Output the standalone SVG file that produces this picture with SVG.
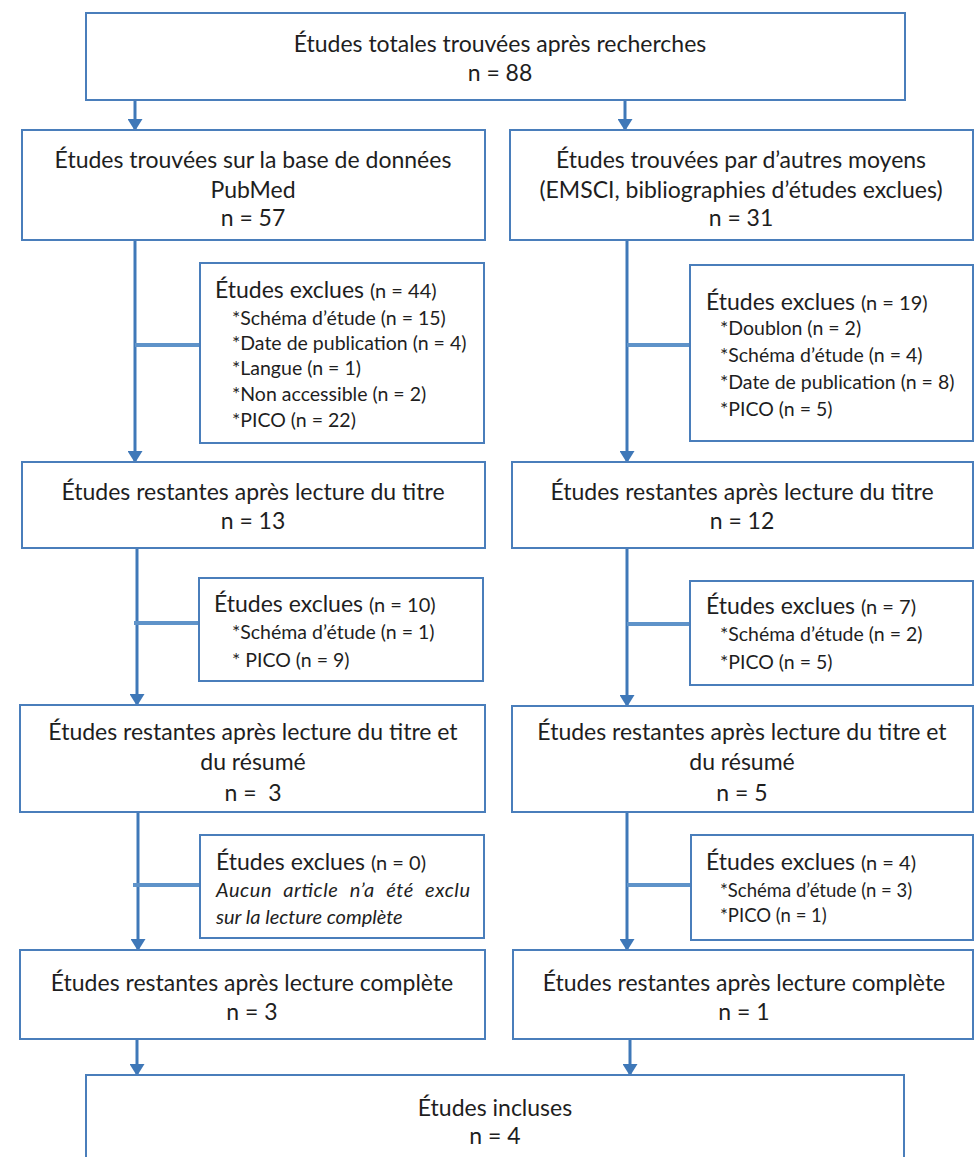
<svg xmlns="http://www.w3.org/2000/svg" width="975" height="1157" viewBox="0 0 975 1157">
<style>
.box{fill:#fff;stroke:#4a7ebb;stroke-width:2}
.t{font-family:Lato,"Open Sans","Liberation Sans",sans-serif;fill:#1e1e1e}
.m{font-size:23px;text-anchor:middle}
.h{font-size:23px}
.hs{font-size:20px}
.s{font-size:19.5px}
.s2{font-size:18.5px}
.i{font-size:20px;font-style:italic}
.ln{stroke:#3f78b8;stroke-width:3;fill:none}
.br{stroke:#5f93c9;stroke-width:4;fill:none}
</style>
<defs>
<marker id="ah" markerWidth="12" markerHeight="15" refX="11" refY="7.5" orient="auto" markerUnits="userSpaceOnUse" viewBox="0 0 12 15">
<path d="M0,0 L12,7.5 L0,15 Z" fill="#3f78b8"/>
</marker>
</defs>
<rect width="975" height="1157" fill="#fff"/>
<g id="connectors">
<line class="ln" x1="135" y1="100" x2="135" y2="130" marker-end="url(#ah)"/>
<line class="ln" x1="625" y1="100" x2="625" y2="130" marker-end="url(#ah)"/>
<line class="ln" x1="135" y1="240" x2="135" y2="462" marker-end="url(#ah)"/>
<line class="br" x1="135" y1="345" x2="200" y2="345"/>
<line class="ln" x1="627" y1="240" x2="627" y2="462" marker-end="url(#ah)"/>
<line class="br" x1="627" y1="345" x2="690" y2="345"/>
<line class="ln" x1="137" y1="548" x2="137" y2="705" marker-end="url(#ah)"/>
<line class="br" x1="134" y1="623" x2="200" y2="623"/>
<line class="ln" x1="627" y1="548" x2="627" y2="706" marker-end="url(#ah)"/>
<line class="br" x1="627" y1="624" x2="690" y2="624"/>
<line class="ln" x1="138" y1="812" x2="138" y2="950" marker-end="url(#ah)"/>
<line class="br" x1="133" y1="885" x2="200" y2="885"/>
<line class="ln" x1="627" y1="812" x2="627" y2="950" marker-end="url(#ah)"/>
<line class="br" x1="627" y1="885" x2="691" y2="885"/>
<line class="ln" x1="137" y1="1039" x2="137" y2="1075" marker-end="url(#ah)"/>
<line class="ln" x1="630" y1="1039" x2="630" y2="1075" marker-end="url(#ah)"/>
</g>
<g id="n-total">
<rect class="box" x="86" y="13" width="819" height="87"/>
<text class="t m" x="500" y="52">Études totales trouvées après recherches</text>
<text class="t m" x="500" y="81">n = 88</text>
</g>
<g id="n-pubmed">
<rect class="box" x="22" y="130" width="463" height="110"/>
<text class="t m" x="253" y="168">Études trouvées sur la base de données</text>
<text class="t m" x="253" y="198">PubMed</text>
<text class="t m" x="253" y="226">n = 57</text>
</g>
<g id="n-other">
<rect class="box" x="510" y="130" width="463" height="110"/>
<text class="t m" x="741" y="168">Études trouvées par d’autres moyens</text>
<text class="t m" x="741" y="198">(EMSCI, bibliographies d’études exclues)</text>
<text class="t m" x="741" y="226">n = 31</text>
</g>
<g id="n-excl-l1">
<rect class="box" x="200" y="263" width="284" height="180"/>
<text class="t h" x="215" y="298">Études exclues <tspan class="hs">(n = 44)</tspan></text>
<text class="t s" x="232" y="325">*Schéma d’étude (n = 15)</text>
<text class="t s" x="232" y="350">*Date de publication (n = 4)</text>
<text class="t s" x="232" y="375">*Langue (n = 1)</text>
<text class="t s" x="232" y="401">*Non accessible (n = 2)</text>
<text class="t s" x="232" y="427">*PICO (n = 22)</text>
</g>
<g id="n-excl-r1">
<rect class="box" x="690" y="265" width="283" height="176"/>
<text class="t h" x="706" y="310">Études exclues <tspan class="hs">(n = 19)</tspan></text>
<text class="t s" x="720" y="335">*Doublon (n = 2)</text>
<text class="t s" x="720" y="362">*Schéma d’étude (n = 4)</text>
<text class="t s" x="720" y="389">*Date de publication (n = 8)</text>
<text class="t s" x="720" y="416">*PICO (n = 5)</text>
</g>
<g id="n-title-l">
<rect class="box" x="22" y="462" width="463" height="86"/>
<text class="t m" x="253" y="500">Études restantes après lecture du titre</text>
<text class="t m" x="253" y="529">n = 13</text>
</g>
<g id="n-title-r">
<rect class="box" x="512" y="462" width="461" height="86"/>
<text class="t m" x="742" y="500">Études restantes après lecture du titre</text>
<text class="t m" x="742" y="529">n = 12</text>
</g>
<g id="n-excl-l2">
<rect class="box" x="199" y="578" width="284" height="103"/>
<text class="t h" x="214" y="612">Études exclues <tspan class="hs">(n = 10)</tspan></text>
<text class="t s" x="232" y="639">*Schéma d’étude (n = 1)</text>
<text class="t s" x="232" y="667">* PICO (n = 9)</text>
</g>
<g id="n-excl-r2">
<rect class="box" x="690" y="581" width="283" height="104"/>
<text class="t h" x="706" y="614">Études exclues <tspan class="hs">(n = 7)</tspan></text>
<text class="t s" x="720" y="641">*Schéma d’étude (n = 2)</text>
<text class="t s" x="720" y="669">*PICO (n = 5)</text>
</g>
<g id="n-abs-l">
<rect class="box" x="20" y="705" width="465" height="107"/>
<text class="t m" x="253" y="740">Études restantes après lecture du titre et</text>
<text class="t m" x="253" y="770">du résumé</text>
<text class="t m" x="253" y="801" xml:space="preserve">n =  3</text>
</g>
<g id="n-abs-r">
<rect class="box" x="512" y="706" width="461" height="106"/>
<text class="t m" x="742" y="740">Études restantes après lecture du titre et</text>
<text class="t m" x="742" y="770">du résumé</text>
<text class="t m" x="742" y="801">n = 5</text>
</g>
<g id="n-excl-l3">
<rect class="box" x="200" y="835" width="284" height="103"/>
<text class="t h" x="216" y="870">Études exclues <tspan class="hs">(n = 0)</tspan></text>
<text class="t i" x="216" y="897" textLength="254" lengthAdjust="spacing" word-spacing="6">Aucun article n’a été exclu</text>
<text class="t i" x="216" y="924">sur la lecture complète</text>
</g>
<g id="n-excl-r3">
<rect class="box" x="691" y="835" width="282" height="105"/>
<text class="t h" x="706" y="870">Études exclues <tspan class="hs">(n = 4)</tspan></text>
<text class="t s2" x="720" y="897">*Schéma d’étude (n = 3)</text>
<text class="t s2" x="720" y="922">*PICO (n = 1)</text>
</g>
<g id="n-full-l">
<rect class="box" x="20" y="950" width="465" height="89"/>
<text class="t m" x="252" y="991">Études restantes après lecture complète</text>
<text class="t m" x="252" y="1020">n = 3</text>
</g>
<g id="n-full-r">
<rect class="box" x="513" y="950" width="460" height="89"/>
<text class="t m" x="744" y="991">Études restantes après lecture complète</text>
<text class="t m" x="744" y="1020">n = 1</text>
</g>
<g id="n-incl">
<rect class="box" x="86" y="1075" width="818" height="100"/>
<text class="t m" x="495" y="1116">Études incluses</text>
<text class="t m" x="495" y="1144">n = 4</text>
</g>
</svg>
